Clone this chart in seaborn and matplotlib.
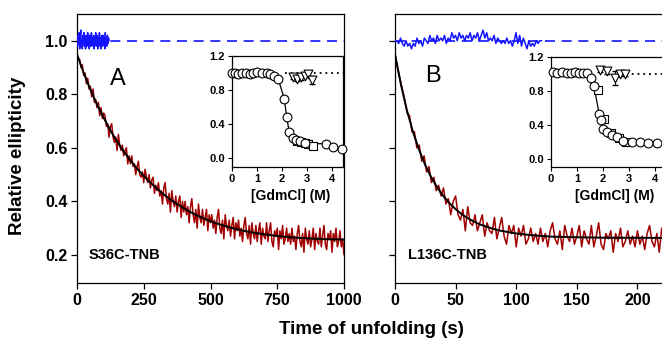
import numpy as np
import matplotlib
matplotlib.use('Agg')
import matplotlib.pyplot as plt
import seaborn as sns

# ---- data ----
# panel A (S36C-TNB): raw unfolding trace, 0-1000 s, every 5 s
red_a = [0.95, 0.93, 0.93, 0.90, 0.91, 0.87, 0.88, 0.84, 0.86, 0.82, 0.83,
         0.79, 0.82, 0.77, 0.78, 0.75, 0.77, 0.72, 0.75, 0.71, 0.73,
         0.72, 0.68, 0.69, 0.64, 0.68, 0.69, 0.64, 0.62, 0.64, 0.59,
         0.65, 0.61, 0.59, 0.61, 0.57, 0.59, 0.60, 0.54, 0.57, 0.54,
         0.57, 0.53, 0.54, 0.50, 0.53, 0.55, 0.50, 0.49, 0.51, 0.47,
         0.52, 0.49, 0.47, 0.50, 0.45, 0.48, 0.49, 0.43, 0.46, 0.44,
         0.47, 0.42, 0.44, 0.39, 0.45, 0.47, 0.41, 0.39, 0.43, 0.36,
         0.44, 0.40, 0.38, 0.42, 0.36, 0.40, 0.42, 0.34, 0.40, 0.36,
         0.40, 0.35, 0.38, 0.32, 0.38, 0.41, 0.35, 0.32, 0.37, 0.30,
         0.39, 0.34, 0.32, 0.37, 0.31, 0.34, 0.37, 0.29, 0.35, 0.32,
         0.35, 0.30, 0.33, 0.28, 0.34, 0.37, 0.30, 0.28, 0.33, 0.26,
         0.35, 0.31, 0.29, 0.33, 0.27, 0.31, 0.34, 0.26, 0.32, 0.29,
         0.33, 0.27, 0.30, 0.25, 0.31, 0.34, 0.28, 0.26, 0.31, 0.24,
         0.32, 0.28, 0.26, 0.31, 0.25, 0.29, 0.32, 0.24, 0.30, 0.27,
         0.26, 0.32, 0.25, 0.29, 0.32, 0.25, 0.23, 0.29, 0.27, 0.30,
         0.22, 0.29, 0.26, 0.31, 0.24, 0.26, 0.30, 0.25, 0.28, 0.24,
         0.30, 0.25, 0.27, 0.22, 0.28, 0.31, 0.25, 0.23, 0.28, 0.21,
         0.30, 0.26, 0.24, 0.29, 0.23, 0.26, 0.30, 0.22, 0.28, 0.25,
         0.24, 0.30, 0.23, 0.27, 0.31, 0.24, 0.22, 0.28, 0.26, 0.29,
         0.21, 0.28, 0.25, 0.30, 0.23, 0.25, 0.29, 0.23, 0.26, 0.20]
fit_a_t = [0, 25, 50, 75, 100, 125, 150, 175, 200, 225, 250, 275, 300, 325,
           350, 375, 400, 425, 450, 475, 500, 525, 550, 575, 600, 625, 650,
           675, 700, 725, 750, 775, 800, 825, 850, 875, 900, 925, 950, 975, 1000]
fit_a = [0.950, 0.880, 0.818, 0.762, 0.712, 0.665, 0.624, 0.587, 0.553, 0.522,
         0.495, 0.470, 0.447, 0.426, 0.407, 0.390, 0.374, 0.360, 0.347, 0.336,
         0.326, 0.317, 0.309, 0.302, 0.296, 0.290, 0.285, 0.281, 0.277, 0.274,
         0.271, 0.268, 0.266, 0.264, 0.263, 0.261, 0.260, 0.259, 0.258, 0.258,
         0.257]
# native protein control, 0-120 s
blue_a = [1.00, 0.98, 1.02, 0.99, 1.03, 0.97, 1.01, 1.04, 0.98, 1.00, 0.97,
          1.02, 0.99, 1.03, 0.98, 1.01, 0.97, 1.02, 1.00, 0.98, 1.03, 0.99,
          1.01, 0.97, 1.02, 0.98, 1.00, 1.03, 0.98, 1.01, 0.99, 1.02, 0.97,
          1.01, 0.99, 1.03, 0.98, 1.00, 1.02, 0.97, 1.01, 0.99, 1.03, 0.98,
          1.01, 0.97, 1.02, 1.00, 0.98, 1.02, 0.99, 1.01, 0.97, 1.03, 0.99,
          1.00, 0.98, 1.02, 0.99, 1.01, 1.00]

# panel B (L136C-TNB): raw trace, 0-220 s, every 2 s
red_b = [0.95, 0.90, 0.86, 0.82, 0.78, 0.73, 0.72, 0.66, 0.66, 0.60,
         0.61, 0.55, 0.57, 0.51, 0.53, 0.47, 0.49, 0.44, 0.46, 0.42,
         0.45, 0.39, 0.41, 0.35, 0.40, 0.42, 0.35, 0.33, 0.37, 0.29,
         0.38, 0.32, 0.31, 0.35, 0.29, 0.32, 0.35, 0.27, 0.32, 0.29,
         0.28, 0.34, 0.26, 0.30, 0.34, 0.27, 0.24, 0.31, 0.28, 0.31,
         0.23, 0.30, 0.27, 0.31, 0.24, 0.26, 0.30, 0.25, 0.28, 0.24,
         0.30, 0.25, 0.28, 0.23, 0.29, 0.32, 0.26, 0.24, 0.29, 0.22,
         0.31, 0.27, 0.25, 0.30, 0.24, 0.27, 0.31, 0.23, 0.29, 0.26,
         0.24, 0.31, 0.23, 0.27, 0.32, 0.24, 0.22, 0.28, 0.26, 0.29,
         0.21, 0.28, 0.25, 0.30, 0.23, 0.25, 0.29, 0.24, 0.27, 0.23,
         0.29, 0.24, 0.27, 0.22, 0.28, 0.31, 0.25, 0.23, 0.28, 0.21,
         0.30]
fit_b_t = [0, 5, 10, 15, 20, 25, 30, 35, 40, 45, 50, 55, 60, 65, 70, 75, 80,
           85, 90, 95, 100, 110, 120, 130, 140, 150, 175, 200, 230]
fit_b = [0.950, 0.834, 0.737, 0.657, 0.591, 0.535, 0.489, 0.451, 0.419, 0.393,
         0.371, 0.352, 0.337, 0.325, 0.314, 0.306, 0.299, 0.292, 0.288, 0.284,
         0.280, 0.275, 0.271, 0.268, 0.267, 0.266, 0.264, 0.264, 0.263]
blue_b = [1.00, 1.00, 0.99, 1.01, 0.99, 0.98, 1.00, 0.98, 0.99, 0.97, 0.99,
          0.98, 1.01, 0.99, 1.00, 0.98, 1.01, 1.00, 0.99, 1.02, 1.00, 1.01,
          0.99, 1.02, 1.00, 1.01, 1.00, 1.02, 0.99, 1.01, 1.00, 1.03, 1.01,
          1.02, 1.00, 1.03, 1.01, 1.02, 1.00, 1.02, 1.01, 1.03, 1.00, 1.02,
          1.01, 1.03, 1.00, 1.02, 1.04, 1.01, 1.03, 1.00, 1.01, 1.00, 1.02,
          0.99, 1.01, 1.00, 0.99, 1.00, 0.99, 1.01, 0.99, 1.00, 0.98, 1.00,
          1.03, 0.99, 1.02, 0.98, 1.01, 0.99, 0.97, 1.00, 0.98, 0.99, 0.98,
          1.00, 0.99, 1.00, 1.00]
baseline = 1.0

# insets: GdmCl denaturation curves
gdm_a_circ = [0.0, 0.12, 0.25, 0.39, 0.55, 0.72, 0.85, 1.01, 1.19, 1.39, 1.52,
              1.68, 1.85, 2.09, 2.19, 2.29, 2.43, 2.56, 2.72, 2.90, 3.76, 4.05, 4.39]
sig_a_circ = [1.00, 1.00, 0.99, 1.00, 1.00, 0.99, 1.00, 1.01, 1.00, 1.00, 0.99,
              0.97, 0.93, 0.70, 0.48, 0.31, 0.24, 0.22, 0.20, 0.18, 0.17, 0.14, 0.11]
gdm_a_sq = [2.60, 2.75, 2.90, 3.05, 3.25]
sig_a_sq = [0.21, 0.19, 0.18, 0.17, 0.15]
gdm_a_tri = [2.45, 2.60, 2.75, 2.90, 3.05, 3.20]
sig_a_tri = [0.95, 0.93, 0.95, 0.97, 0.99, 0.92]
err_a_tri = [0.02, 0.02, 0.03, 0.02, 0.03, 0.05]

gdm_b_circ = [0.09, 0.22, 0.41, 0.60, 0.76, 0.93, 1.09, 1.24, 1.40, 1.53, 1.65,
              1.85, 1.92, 2.01, 2.17, 2.33, 2.53, 2.78, 3.10, 3.42, 3.74, 4.06]
sig_b_circ = [1.02, 1.01, 1.02, 1.01, 1.01, 1.02, 1.01, 1.01, 1.01, 0.95, 0.86,
              0.53, 0.45, 0.35, 0.31, 0.28, 0.25, 0.21, 0.20, 0.19, 0.18, 0.18]
gdm_b_sq = [1.80, 2.05, 2.30, 2.60, 2.90]
sig_b_sq = [0.81, 0.47, 0.30, 0.24, 0.20]
gdm_b_tri = [1.90, 2.15, 2.47, 2.65, 2.85]
sig_b_tri = [1.05, 1.03, 0.95, 1.00, 1.00]
err_b_tri = [0.03, 0.03, 0.08, 0.03, 0.03]

RED = '#a00000'
BLUE = '#1414ff'

sns.set_theme(style='ticks')
plt.rcParams['font.family'] = ['Liberation Sans', 'DejaVu Sans']
plt.rcParams['font.weight'] = 'bold'
plt.rcParams['axes.edgecolor'] = 'black'
plt.rcParams['axes.linewidth'] = 0.9
plt.rcParams['text.color'] = 'black'
plt.rcParams['axes.labelcolor'] = 'black'
plt.rcParams['xtick.color'] = 'black'
plt.rcParams['ytick.color'] = 'black'

W, H = 662, 344
fig = plt.figure(figsize=(W / 100, H / 100), dpi=100)


def px_axes(left, right, top, bottom):
    return fig.add_axes([left / W, 1 - bottom / H, (right - left) / W, (bottom - top) / H])


def main_panel(ax, red, t_max, fit_t, fit, blue, blue_end, xlim, xticks, show_ylabels):
    t_red = np.linspace(0, t_max, len(red))
    t_blue = np.linspace(0, blue_end, len(blue))
    ax.axhline(baseline, color=BLUE, ls=(0, (6, 4)), lw=1.2, zorder=1)
    sns.lineplot(x=t_red, y=red, color=RED, lw=1.1, ax=ax, zorder=2)
    sns.lineplot(x=fit_t, y=fit, color='black', lw=1.4, ax=ax, zorder=3)
    sns.lineplot(x=t_blue, y=blue, color=BLUE, lw=1.1, ax=ax, zorder=4)
    ax.set_xlim(*xlim)
    ax.set_ylim(0.095, 1.1)
    ax.set_xticks(xticks)
    ax.set_yticks([0.2, 0.4, 0.6, 0.8, 1.0])
    ax.tick_params(direction='out', length=4, width=0.9, labelsize=11.5, pad=3)
    if not show_ylabels:
        ax.set_yticklabels([])
    ax.set_xlabel('')
    ax.set_ylabel('')


def inset_panel(ins, cx, cy, sx, sy, tx, ty, te, dot_start, xlim):
    sns.lineplot(x=cx, y=cy, color='black', lw=0.9, ax=ins, sort=False, zorder=2)
    ins.hlines(baseline, dot_start, xlim[1], colors='black', linestyles=(0, (1, 2.2)), lw=1.3, zorder=1)
    ins.errorbar(tx, ty, yerr=te, fmt='none', ecolor='black', elinewidth=0.8, capsize=2, zorder=3)
    sns.scatterplot(x=tx, y=ty, marker='v', s=40, facecolor='white', edgecolor='black',
                    linewidth=0.8, ax=ins, zorder=4, clip_on=False)
    sns.scatterplot(x=sx, y=sy, marker='s', s=34, facecolor='white', edgecolor='black',
                    linewidth=0.8, ax=ins, zorder=4, clip_on=False)
    sns.scatterplot(x=cx, y=cy, marker='o', s=40, facecolor='white', edgecolor='black',
                    linewidth=0.8, ax=ins, zorder=5, clip_on=False)
    ins.set_xlim(*xlim)
    ins.set_ylim(-0.1, 1.2)
    ins.set_xticks([0, 1, 2, 3, 4])
    ins.set_yticks([0.0, 0.4, 0.8, 1.2])
    ins.tick_params(direction='out', length=3, width=0.8, labelsize=8, pad=2)
    ins.set_ylabel('')
    ins.set_xlabel('[GdmCl] (M)', fontsize=10, fontweight='bold', labelpad=3)
    ins.xaxis.set_label_coords(0.53, -0.2)
    ins.set_facecolor('white')


# panel A
axA = px_axes(77, 344, 14, 283)
main_panel(axA, red_a, 1000, fit_a_t, fit_a, blue_a, 120, (0, 1000),
           [0, 250, 500, 750, 1000], True)
axA.text(152, 0.856, 'A', fontsize=17, fontweight='normal', ha='center', va='center')
axA.text(45, 0.2, 'S36C-TNB', fontsize=10.5, fontweight='bold', ha='left', va='center')

# panel B (cut off at the right edge, as in the original)
axB = px_axes(395, 672, 14, 283)
main_panel(axB, red_b, 220, fit_b_t, fit_b, blue_b, 121, (0, 228.5),
           [0, 50, 100, 150, 200], False)
axB.spines['right'].set_visible(False)
axB.text(31, 0.869, 'B', fontsize=17, fontweight='normal', ha='center', va='center')
axB.text(10.7, 0.2, 'L136C-TNB', fontsize=10.5, fontweight='bold', ha='left', va='center')

insA = px_axes(232, 343, 56, 167)
inset_panel(insA, gdm_a_circ, sig_a_circ, gdm_a_sq, sig_a_sq, gdm_a_tri, sig_a_tri,
            err_a_tri, 2.1, (0, 4.44))

insB = px_axes(551, 672, 57, 167)
inset_panel(insB, gdm_b_circ, sig_b_circ, gdm_b_sq, sig_b_sq, gdm_b_tri, sig_b_tri,
            err_b_tri, 2.9, (0, 121 / 26))

fig.text(18 / W, 1 - 156 / H, 'Relative ellipticity', rotation=90, ha='center',
         va='center', fontsize=13.5, fontweight='bold')
fig.text(371 / W, 1 - 330 / H, 'Time of unfolding (s)', ha='center', va='center',
         fontsize=13.5, fontweight='bold')

fig.savefig('out.png', dpi=100)
